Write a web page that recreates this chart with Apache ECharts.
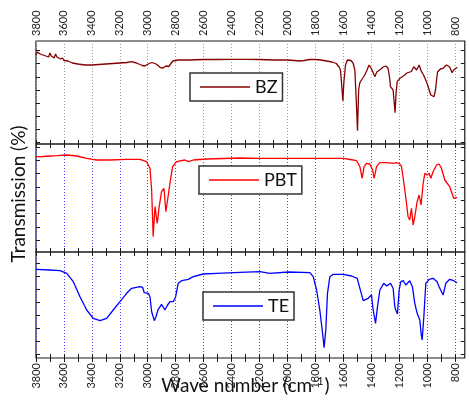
<!DOCTYPE html>
<html>
<head>
<meta charset="utf-8">
<script src="https://cdn.jsdelivr.net/npm/echarts@6/dist/echarts.min.js"></script>
<style>html,body{margin:0;padding:0;background:#fff}#c{width:469px;height:413px}</style>
</head>
<body>
<div id="c"></div>
<script>
// ---- data (wave number in cm-1, transmission in arbitrary % units per panel) ----
const bzWave = [3800,3790,3780,3770,3760,3750,3740,3730,3720,3710,3700,3690,3680,3670,3660,3650,3640,3625,3610,3600,3570,3540,3500,3450,3400,3350,3300,3250,3200,3150,3115,3080,3040,3020,2990,2970,2940,2910,2890,2870,2850,2820,2780,2700,2600,2500,2400,2300,2200,2100,2000,1950,1920,1880,1840,1800,1760,1720,1680,1650,1630,1620,1610,1603,1596,1584,1570,1560,1545,1530,1517,1505,1498,1490,1482,1470,1446,1430,1415,1400,1385,1374,1360,1350,1330,1315,1296,1279,1268,1262,1250,1243,1236,1229,1222,1214,1195,1180,1160,1145,1136,1112,1095,1085,1075,1057,1040,1025,1000,985,973,960,950,940,925,905,885,861,838,821,810,800,784];
const bzTrans = [89,92,92.3,90,91.5,89,91,88,90,87,91,88,89,86,90,87,88,85,86,83.5,83,81,80,79,79,79.5,80,80.5,81,81.5,82.3,81,78.5,78,80.5,81.5,80,76.5,76,78,77.5,83,84,84,84.5,84.5,84.7,84.7,84.5,84,84,83.5,83,83.5,84.5,84.5,84,83,82,80.5,77,74,57,43,61,79,84,84.7,83.5,81,74,37,13.3,54,61,64,69,74,79,75.7,71,67.3,72,74,75,77,78,75.7,66,57.3,55.7,54,42.3,31.3,50.7,62.3,65.7,67,69,71,72.3,72.5,77.3,76,74,79,72.3,69,60.7,54,49,47.5,47.3,54,72,75,75.7,79,77,71.3,74,75.7,76.7];

const pbtWave = [3800,3750,3700,3650,3580,3510,3437,3366,3270,3151,3056,3008,2984,2972,2961,2948,2941,2932,2918,2901,2884,2870,2858,2841,2822,2793,2734,2710,2674,2578,2340,2200,2000,1800,1600,1550,1505,1481,1465,1451,1434,1410,1390,1379,1362,1338,1290,1243,1219,1195,1183,1159,1136,1124,1112,1100,1088,1071,1057,1043,1028,1016,1000,985,973,957,932,914,897,873,838,809,785];
const pbtTrans = [95.3,95.5,96,96.3,97,96,93.7,92,92,92.7,92.7,90.3,83.7,62,15.3,45.3,44.3,28.7,45.3,60.3,63.7,40.3,52,68.7,85.3,90.3,92,90.3,92,93,94,93.7,93.7,93.7,93.7,92.5,91.3,85.3,73.7,85.3,88.7,88,82,73.7,85.3,89.3,89.3,88.7,89.3,88,85.3,62,35.3,32,43.7,27,35.3,50.3,57,47,68.7,78.7,77,78.7,73.7,80.3,87,88,83.7,72,65.3,53.7,54.7];

const teWave = [3800,3700,3628,3580,3533,3485,3437,3390,3342,3294,3247,3199,3151,3115,3056,3037,3025,2996,2984,2972,2961,2953,2941,2925,2901,2877,2858,2841,2817,2800,2782,2757,2710,2674,2603,2507,2340,2197,2125,1994,1839,1815,1791,1768,1748,1737,1725,1713,1696,1672,1601,1541,1500,1481,1457,1422,1398,1386,1369,1355,1338,1310,1290,1262,1243,1231,1224,1219,1212,1200,1188,1171,1152,1124,1105,1088,1071,1059,1052,1043,1035,1023,1009,985,957,928,914,902,885,866,838,809,785];
const teTrans = [88.7,88,87.3,84.7,76.3,61.3,48,39.7,37.3,39.7,48,56.3,64.7,69.7,71.3,70.7,65.3,64.7,61.3,46.3,41.3,37.3,41.3,48.7,53.7,48,53,56.3,56.3,61.3,74.7,77.3,78.7,81.3,84,84.7,85.7,86.3,84.7,86,85.3,81.3,68,48,24.7,10.3,28,64.7,81.3,83.7,83.7,82,79.7,69.7,57.3,59.7,63,48,34.7,51.3,68,74.7,72,74.7,69.7,51.3,48,49.7,44,68,76.3,77.3,73,77.3,71.3,54.7,44.7,44.7,38,24.7,18,41.3,74.7,78.7,79.7,76.3,71.3,73,63,74.7,78.7,77.3,75.3];

const seriesNames = ['BZ', 'PBT', 'TE'];
const waveTickLabels = [3800,3600,3400,3200,3000,2800,2600,2400,2200,2000,1800,1600,1400,1200,1000,800];
const p1YTicks = [1.7,14.8,27.9,41.0,54.1,67.2,80.3,93.4];
const p2YTicks = [11.7,25,38.4,51.7,65,78.4,91.7,105];
const p3YTicks = [3.4,16.5,29.6,42.7,55.8,68.9,82,95.1];

// ---- layout ----
const FONT = 'Lato';
const LEFT = 36;
const TICK_MIN = waveTickLabels[waveTickLabels.length - 1];
const TICK_MAX = waveTickLabels[0];
const PX_PER_UNIT = 419 / (TICK_MAX - TICK_MIN);
const DATA_MIN = 730;
const DATA_W = (TICK_MAX - DATA_MIN) * PX_PER_UNIT;
const panels = [
  {top: 41, height: 103, ticks: p1YTicks, grid: '#a0a0a0', color: '#850000', wave: bzWave, trans: bzTrans, legend: {left: 190, top: 73}},
  {top: 144, height: 108, ticks: p2YTicks, grid: '#4848ff', color: '#ff0000', wave: pbtWave, trans: pbtTrans, legend: {left: 199, top: 166}},
  {top: 252, height: 106, ticks: p3YTicks, grid: '#4848ff', color: '#0000ff', wave: teWave, trans: teTrans, legend: {left: 203, top: 292}}
];

const grid = [], xAxis = [], yAxis = [], series = [], legend = [];
const axisColor = '#1a1a1a';
panels.forEach((p, i) => {
  grid.push({left: LEFT, top: p.top, width: DATA_W, height: p.height, show: true, borderColor: axisColor, borderWidth: 1.2, backgroundColor: 'transparent'});
  xAxis.push({type: 'value', gridIndex: i, min: DATA_MIN, max: TICK_MAX, inverse: true, show: false});
  ['left', 'right'].forEach(pos => {
    yAxis.push({type: 'value', gridIndex: i, position: pos, min: 0, max: p.height,
      axisLine: {show: false}, axisLabel: {show: false}, splitLine: {show: false},
      axisTick: {show: true, inside: true, length: 4, customValues: p.ticks, lineStyle: {color: axisColor, width: 1}}});
  });
  series.push({
    name: seriesNames[i], type: 'line', xAxisIndex: i, yAxisIndex: 2 * i,
    data: p.wave.map((w, k) => [w, p.trans[k]]),
    showSymbol: false, symbol: 'none', smooth: false, animation: false,
    lineStyle: {color: p.color, width: 1.3}, itemStyle: {color: p.color}
  });
  legend.push({
    data: [seriesNames[i]], left: p.legend.left, top: p.legend.top, orient: 'horizontal',
    icon: 'rect', itemWidth: 50, itemHeight: 1.6, selectedMode: false,
    borderColor: '#333', borderWidth: 1.5, borderRadius: 0, backgroundColor: '#fff',
    padding: [5, 5, 5, 10],
    textStyle: {fontFamily: FONT, fontSize: 18, color: '#111'}
  });
});
panels.forEach((p, i) => {
  const gi = grid.length;
  grid.push({left: LEFT, top: p.top, width: (TICK_MAX - TICK_MIN) * PX_PER_UNIT, height: p.height, show: false});
  ['top', 'bottom'].forEach(pos => {
    const showLabel = (i === 0 && pos === 'top') || (i === 2 && pos === 'bottom');
    const ax = {
      type: 'value', gridIndex: gi, position: pos, min: TICK_MIN, max: TICK_MAX, interval: 200, inverse: true,
      axisLine: {show: false},
      axisTick: {show: true, inside: true, length: 4, lineStyle: {color: axisColor, width: 1}},
      minorTick: {show: true, splitNumber: 2, length: 4, lineStyle: {color: axisColor, width: 1}},
      axisLabel: {show: showLabel, rotate: 90, margin: 5, fontFamily: FONT, fontSize: 11, color: '#222',
        formatter: v => String(v)},
      splitLine: {show: pos === 'bottom', lineStyle: {color: p.grid, width: 1, type: [1, 2]}}
    };
    if (i === 2 && pos === 'bottom') {
      ax.name = '{b|Wave number (cm}{s|-1}{b|)}';
      ax.nameLocation = 'middle';
      ax.nameGap = 18;
      ax.nameMoveOverlap = false;
      ax.nameTextStyle = {fontFamily: FONT, fontSize: 19, color: '#111',
        rich: {b: {fontFamily: FONT, fontSize: 19, color: '#111', verticalAlign: 'bottom'},
               s: {fontFamily: FONT, fontSize: 11, color: '#111', verticalAlign: 'top', padding: [0, 1, 5, 1]}}};
    }
    xAxis.push(ax);
  });
  yAxis.push({type: 'value', gridIndex: gi, min: 0, max: p.height, show: false});
});

const chart = echarts.init(document.getElementById('c'), null, {renderer: 'canvas'});
chart.setOption({
  animation: false,
  backgroundColor: '#fff',
  grid, xAxis, yAxis, series, legend,
  graphic: [{
    type: 'text', x: 19, y: 194, rotation: Math.PI / 2,
    style: {text: 'Transmission (%)', fontFamily: FONT, fontSize: 19, fill: '#111', align: 'center', verticalAlign: 'middle'}
  }]
});
</script>
</body>
</html>
